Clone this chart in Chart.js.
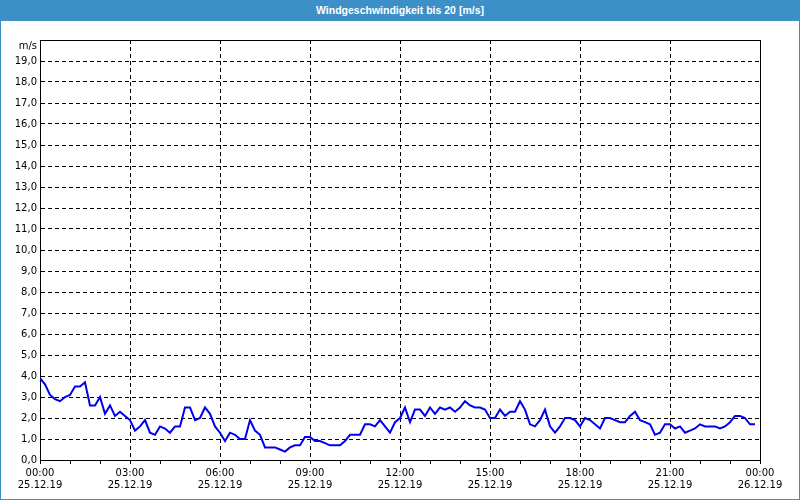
<!DOCTYPE html>
<html>
<head>
<meta charset="utf-8">
<script src="https://cdn.jsdelivr.net/npm/chart.js@4/dist/chart.umd.min.js"></script>
<style>
    html, body { margin: 0; padding: 0; background: #fff; }
    #wrap { position: relative; width: 800px; height: 500px; box-sizing: border-box; border: 1px solid #3d8fc7; }
    #titlebar {
        position: absolute; left: -1px; top: -1px; width: 800px; height: 21px;
        background: #3d8fc7; color: #fff; text-align: center;
        font: bold 10.5px "Liberation Sans", Arial, sans-serif; line-height: 21px;
    }
    #box { position: absolute; left: 0; top: 19px; width: 798px; height: 479px; }
</style>
</head>
<body>
<div id="wrap">
    <div id="titlebar">Windgeschwindigkeit bis 20 [m/s]</div>
    <div id="box"><canvas id="chart"></canvas></div>
</div>
<script>
// Wind speed [m/s], one value every 10 minutes from 25.12.19 00:00 to 23:50
const stepMinutes = 10;
const windSpeed = [
    3.9, 3.6, 3.1, 2.9, 2.8, 3.0, 3.1, 3.5, 3.5, 3.7, 2.6, 2.6, 3.0, 2.2, 2.6, 2.1,
    2.3, 2.1, 1.9, 1.4, 1.6, 1.9, 1.3, 1.2, 1.6, 1.5, 1.3, 1.6, 1.6, 2.5, 2.5, 1.9,
    2.0, 2.5, 2.2, 1.6, 1.3, 0.9, 1.3, 1.2, 1.0, 1.0, 1.9, 1.4, 1.2, 0.6, 0.6, 0.6,
    0.5, 0.4, 0.6, 0.7, 0.7, 1.1, 1.1, 0.9, 0.9, 0.8, 0.7, 0.7, 0.7, 0.9, 1.2, 1.2,
    1.2, 1.7, 1.7, 1.6, 1.9, 1.6, 1.3, 1.8, 2.0, 2.5, 1.8, 2.4, 2.4, 2.1, 2.5, 2.2,
    2.5, 2.4, 2.5, 2.3, 2.5, 2.8, 2.6, 2.5, 2.5, 2.4, 2.0, 2.0, 2.4, 2.1, 2.3, 2.3,
    2.8, 2.4, 1.7, 1.6, 1.9, 2.4, 1.6, 1.3, 1.6, 2.0, 2.0, 1.9, 1.6, 2.0, 1.9, 1.7,
    1.5, 2.0, 2.0, 1.9, 1.8, 1.8, 2.1, 2.3, 1.9, 1.8, 1.7, 1.2, 1.3, 1.7, 1.7, 1.5,
    1.6, 1.3, 1.4, 1.5, 1.7, 1.6, 1.6, 1.6, 1.5, 1.6, 1.8, 2.1, 2.1, 2.0, 1.7, 1.7
];

// x axis: 0..1440 minutes, labels every 3 hours
const timeLabels = ['00:00', '03:00', '06:00', '09:00', '12:00', '15:00', '18:00', '21:00', '00:00'];
const dateLabels = ['25.12.19', '25.12.19', '25.12.19', '25.12.19', '25.12.19', '25.12.19', '25.12.19', '25.12.19', '26.12.19'];
const yUnit = 'm/s';

const points = windSpeed.map((v, i) => ({ x: i * stepMinutes, y: v }));
const tickFont = { family: '"DejaVu Sans", Verdana, sans-serif', size: 10 };

// draws the solid frame (top and right) and the unit label
const framePlugin = {
    id: 'frame',
    beforeDatasetsDraw(chart) {
        const { ctx, chartArea: a } = chart;
        ctx.save();
        ctx.strokeStyle = '#000';
        ctx.lineWidth = 1;
        ctx.beginPath();
        ctx.moveTo(a.left, a.top + 0.5);
        ctx.lineTo(a.right + 0.5, a.top + 0.5);
        ctx.lineTo(a.right + 0.5, a.bottom);
        ctx.stroke();
        ctx.fillStyle = '#000';
        ctx.font = '10px "DejaVu Sans", Verdana, sans-serif';
        ctx.textAlign = 'right';
        ctx.textBaseline = 'middle';
        ctx.fillText(yUnit, a.left - 3, a.top + 6.5);
        ctx.restore();
    }
};

new Chart(document.getElementById('chart'), {
    type: 'line',
    data: {
        datasets: [{
            data: points,
            borderColor: '#0000ee',
            borderWidth: 2,
            pointRadius: 0,
            tension: 0,
            fill: false
        }]
    },
    options: {
        responsive: true,
        maintainAspectRatio: false,
        animation: false,
        layout: { padding: { top: 20, right: 39, left: 0, bottom: 0 } },
        plugins: { legend: { display: false }, tooltip: { enabled: false } },
        scales: {
            x: {
                type: 'linear',
                min: 0,
                max: 1440,
                afterFit: (scale) => { scale.height = 39; },
                border: { color: '#000', width: 1, dash: [4, 3] },
                grid: {
                    color: (ctx) => (ctx.tick && ctx.tick.value % 180 === 0) ? '#000' : 'rgba(0,0,0,0)',
                    tickColor: '#000',
                    tickLength: 4,
                    drawTicks: true
                },
                ticks: {
                    stepSize: 60,
                    autoSkip: false,
                    maxRotation: 0,
                    padding: 3,
                    color: '#000',
                    font: tickFont,
                    callback: (v) => v % 180 === 0 ? [timeLabels[v / 180], dateLabels[v / 180]] : ''
                }
            },
            y: {
                min: 0,
                max: 20,
                afterFit: (scale) => { scale.width = 39; },
                border: { color: '#000', width: 1, dash: [4, 3] },
                grid: { color: '#000', drawTicks: false },
                ticks: {
                    stepSize: 1,
                    padding: 3,
                    color: '#000',
                    font: tickFont,
                    callback: (v) => v === 20 ? '' : v.toFixed(1).replace('.', ',')
                }
            }
        }
    },
    plugins: [framePlugin]
});
</script>
</body>
</html>
